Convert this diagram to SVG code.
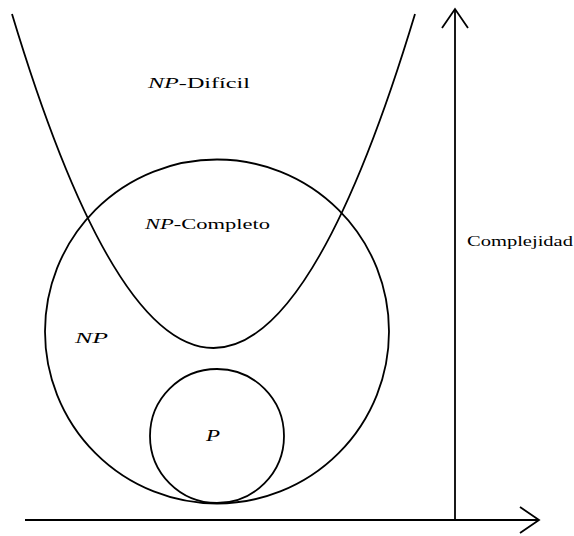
<svg xmlns="http://www.w3.org/2000/svg" width="574" height="536" viewBox="0 0 574 536">
<style>
.ln{fill:none;stroke:#000;stroke-width:1.8}
.t{font-family:"Liberation Serif","DejaVu Serif",serif;font-size:14.5px;fill:#000}
.m{font-style:italic}
</style>
<rect width="574" height="536" fill="#fff"/>
<g id="connectors">
<path class="ln" d="M25,520 H539"/>
<path class="ln" d="M520,507 L539,520 L520,533"/>
<path class="ln" d="M455,520 V9"/>
<path class="ln" d="M442,28 L455,9 L468,28"/>
</g>
<g id="np-hard">
<path class="ln" d="M12,14 Q213.5,682 415,14"/>
<text class="t" x="148" y="88" textLength="102" lengthAdjust="spacingAndGlyphs"><tspan class="m">NP</tspan>-Difícil</text>
</g>
<g id="np">
<circle class="ln" cx="217" cy="331.5" r="172"/>
<text class="t m" x="75" y="343" textLength="33" lengthAdjust="spacingAndGlyphs">NP</text>
</g>
<g id="np-complete">
<text class="t" x="145" y="229" textLength="125" lengthAdjust="spacingAndGlyphs"><tspan class="m">NP</tspan>-Completo</text>
</g>
<g id="p">
<circle class="ln" cx="217" cy="436" r="67"/>
<text class="t m" x="206" y="441" style="font-size:16px" textLength="14" lengthAdjust="spacingAndGlyphs">P</text>
</g>
<g id="axis-label">
<text class="t" x="467" y="246" textLength="106" lengthAdjust="spacingAndGlyphs">Complejidad</text>
</g>
</svg>
